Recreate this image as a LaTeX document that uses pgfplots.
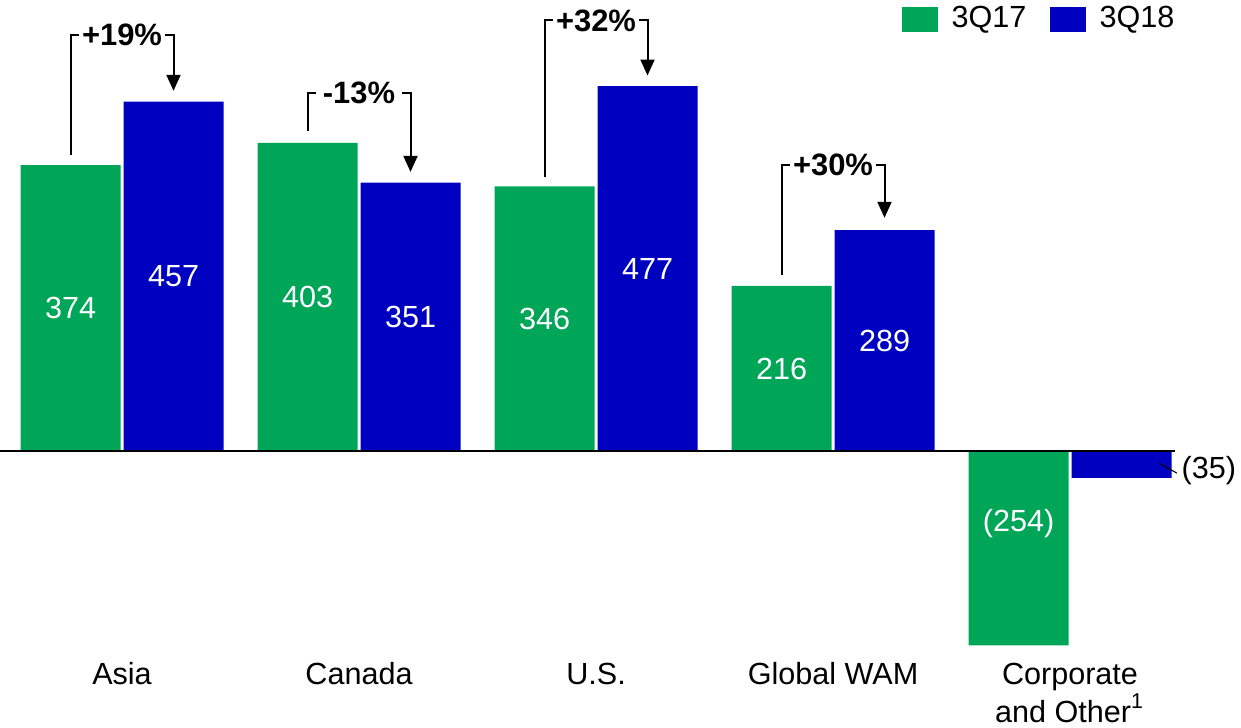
\documentclass[border=0pt]{standalone}
\usepackage{pgfplots}
\pgfplotsset{compat=1.18}
\usepackage{fontspec}
\setmainfont{Liberation Sans}
\usetikzlibrary{arrows.meta}
\definecolor{mgreen}{RGB}{0,166,88}
\definecolor{mblue}{RGB}{0,0,193}
\tikzset{brk/.style={line width=0.57pt}, pct/.style={font=\fontsize{8.8}{9.7}\selectfont\bfseries}}

\begin{document}
\begin{tikzpicture}[font=\fontsize{8.7}{9.7}\selectfont]
\begin{axis}[
    scale only axis,
    width=11.75cm, height=6.426cm,
    xmin=-0.5148, xmax=4.443,
    ymin=-260, ymax=580,
    clip=false,
    axis line style={draw=none},
    major tick length=0pt,
    ytick=\empty,
    xtick={0,1,2,3,4},
    xticklabels={Asia, Canada, U.S., Global WAM, {Corporate\\and Other\textsuperscript{1}}},
    xticklabel style={align=center, anchor=north, inner sep=0pt, yshift=-0.12cm},
    legend columns=2,
    legend image code/.code={\fill[#1] (0cm,-0.125cm) rectangle (0.36cm,0.125cm);},
    legend style={draw=none, fill=none, at={(axis description cs:1,1)}, anchor=north east,
        xshift=0cm, yshift=0.02cm, inner sep=0pt, nodes={inner sep=0pt},
        /tikz/every odd column/.append style={column sep=0.14cm},
        /tikz/every even column/.append style={column sep=0.23cm}},
]

% 3Q17
\addplot[ybar, bar width=0.422, bar shift=-0.2173, fill=mgreen, draw=none] coordinates {
    (0,374) (1,403) (2,346) (3,216) (4,-254)
};
\addlegendentry{3Q17}
% 3Q18
\addplot[ybar, bar width=0.422, bar shift=0.2173, fill=mblue, draw=none] coordinates {
    (0,457) (1,351) (2,477) (3,289) (4,-35)
};
\addlegendentry{3Q18}

% zero line
\draw[line width=0.57pt] (axis cs:-0.5148,0) -- (axis cs:4.443,0);

% values inside bars
\node[white] at (axis cs:-0.2173,187) {374};
\node[white] at (axis cs:0.2173,228.5) {457};
\node[white] at (axis cs:0.7827,201.5) {403};
\node[white] at (axis cs:1.2173,175.5) {351};
\node[white] at (axis cs:1.7827,173) {346};
\node[white] at (axis cs:2.2173,238.5) {477};
\node[white] at (axis cs:2.7827,108) {216};
\node[white] at (axis cs:3.2173,144.5) {289};
\node[white] at (axis cs:3.7827,-95) {(254)};
\draw[line width=0.3pt] (axis cs:4.3755,-15.7) -- (axis cs:4.451,-28.8);
\node[anchor=west, inner sep=0pt] at (axis cs:4.468,-26) {(35)};

% change brackets
\draw[brk] (axis cs:-0.2173,387) -- (axis cs:-0.2173,544) -- (axis cs:-0.183,544);
\draw[brk, -{Triangle[length=1.6mm,width=1.4mm]}] (axis cs:0.183,544) -- (axis cs:0.2173,544) -- (axis cs:0.2173,471);
\node[pct] at (axis cs:0,544) {+19\%};

\draw[brk] (axis cs:0.7827,418) -- (axis cs:0.7827,468) -- (axis cs:0.817,468);
\draw[brk, -{Triangle[length=1.6mm,width=1.4mm]}] (axis cs:1.183,468) -- (axis cs:1.2173,468) -- (axis cs:1.2173,365);
\node[pct] at (axis cs:1,468) {-13\%};

\draw[brk] (axis cs:1.7827,358) -- (axis cs:1.7827,563) -- (axis cs:1.817,563);
\draw[brk, -{Triangle[length=1.6mm,width=1.4mm]}] (axis cs:2.183,563) -- (axis cs:2.2173,563) -- (axis cs:2.2173,491);
\node[pct] at (axis cs:2,563) {+32\%};

\draw[brk] (axis cs:2.7827,230) -- (axis cs:2.7827,374) -- (axis cs:2.817,374);
\draw[brk, -{Triangle[length=1.6mm,width=1.4mm]}] (axis cs:3.183,374) -- (axis cs:3.2173,374) -- (axis cs:3.2173,305);
\node[pct] at (axis cs:3,374) {+30\%};

\end{axis}
\pgfresetboundingbox
\path (0,-0.78) rectangle (12.41,6.50);
\end{tikzpicture}
\end{document}
